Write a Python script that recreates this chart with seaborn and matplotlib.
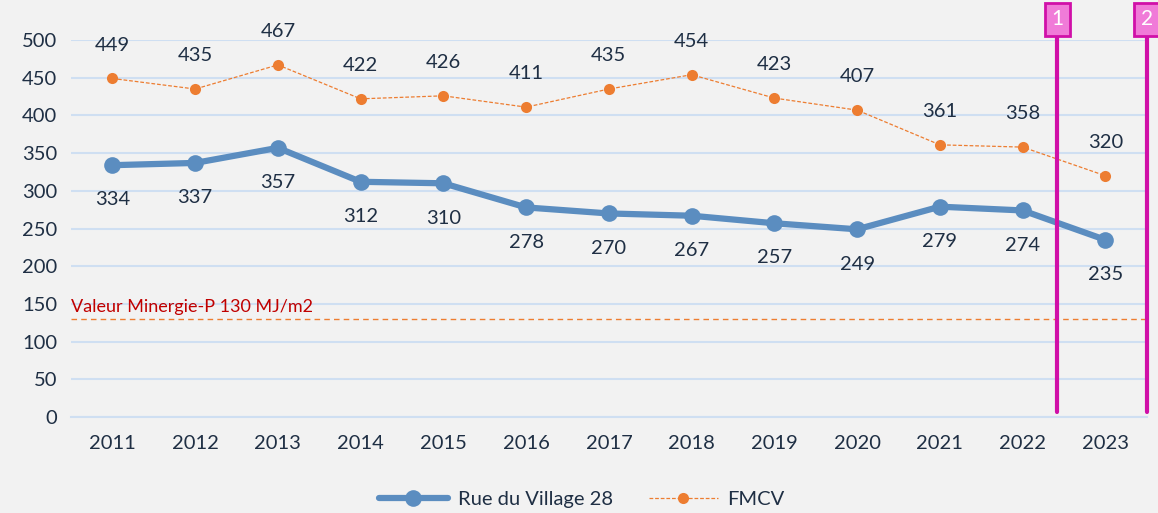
import pandas as pd
import seaborn as sns
import matplotlib.pyplot as plt
import numpy as np

# data
years = ['2011', '2012', '2013', '2014', '2015', '2016', '2017', '2018', '2019', '2020', '2021', '2022', '2023']
rue_village = [334, 337, 357, 312, 310, 278, 270, 267, 257, 249, 279, 274, 235]
fmcv = [449, 435, 467, 422, 426, 411, 435, 454, 423, 407, 361, 358, 320]
minergie = 130
markers_lbl = ['1', '2']

sns.set_style("white")
plt.rcParams['font.family'] = ['Lato', 'DejaVu Sans']

df = pd.DataFrame({'year': years, 'Rue du Village 28': rue_village, 'FMCV': fmcv})

bg = '#f2f2f2'
txt = '#1f2f44'
blue = '#5b8dc0'
orange = '#ed7d31'
grid = '#cfdff2'

fig = plt.figure(figsize=(11.58, 5.13), dpi=100, facecolor=bg)
ax = fig.add_axes([0.0613, 0.187, 0.929, 0.735])
ax.set_facecolor(bg)

x = np.arange(len(years))
sns.lineplot(data=df, x=x, y='Rue du Village 28', ax=ax, color=blue, lw=4.5,
             marker='o', markersize=12, markeredgewidth=0, label='Rue du Village 28')
sns.lineplot(data=df, x=x, y='FMCV', ax=ax, color=orange, lw=0.9, linestyle=(0, (3, 1.5)),
             marker='o', markersize=8, markeredgewidth=0, label='FMCV')

# data labels
for i, v in enumerate(rue_village):
    ax.annotate(str(v), (i, v), xytext=(0, -25), textcoords='offset points',
                ha='center', va='center', fontsize=14.5, color=txt)
for i, v in enumerate(fmcv):
    ax.annotate(str(v), (i, v), xytext=(0, 24), textcoords='offset points',
                ha='center', va='center', fontsize=14.5, color=txt)

# minergie line
ax.axhline(minergie, color=orange, lw=1, ls=(0, (4, 3)), xmin=0, xmax=1)
ax.text(-0.5, minergie + 5, 'Valeur Minergie-P 130 MJ/m2', color='#c00000',
        fontsize=13, ha='left', va='bottom')

# magenta markers
for xp, lab in zip([11.42, 12.5], markers_lbl):
    ax.plot([xp, xp], [7, 505], color='#d010a8', lw=3, clip_on=False, zorder=5)
    ax.text(xp, 514, lab, ha='center', va='bottom', fontsize=15, color='white',
            clip_on=False, zorder=6,
            bbox=dict(boxstyle='square,pad=0.3', fc='#f07bd8', ec='#d010a8', lw=2))

ax.set_xlim(-0.5, len(years) - 0.5)
ax.set_ylim(0, 500)
ax.set_yticks(np.arange(0, 501, 50))
ax.set_xticks(x)
ax.set_xticklabels(years)
ax.set_xticks(np.arange(-0.5, len(years), 1), minor=True)
ax.tick_params(axis='x', which='major', length=0, pad=13, labelsize=14.5, labelcolor=txt)
ax.tick_params(axis='x', which='minor', length=7, width=1.5, color=grid, direction='out')
ax.tick_params(axis='y', length=0, labelsize=14.5, labelcolor=txt, pad=10)
ax.yaxis.grid(True, color=grid, lw=1.5)
ax.set_axisbelow(True)
for s in ['top', 'right', 'left']:
    ax.spines[s].set_visible(False)
ax.spines['bottom'].set_color(grid)
ax.spines['bottom'].set_linewidth(1.5)
ax.set_xlabel('')
ax.set_ylabel('')

leg = ax.legend(loc='upper center', bbox_to_anchor=(0.475, -0.148), ncol=2, frameon=False,
                fontsize=14.5, handlelength=3.4, columnspacing=1.8, handletextpad=0.5)
for t in leg.get_texts():
    t.set_color(txt)

fig.savefig('out.png', dpi=100, facecolor=bg)
